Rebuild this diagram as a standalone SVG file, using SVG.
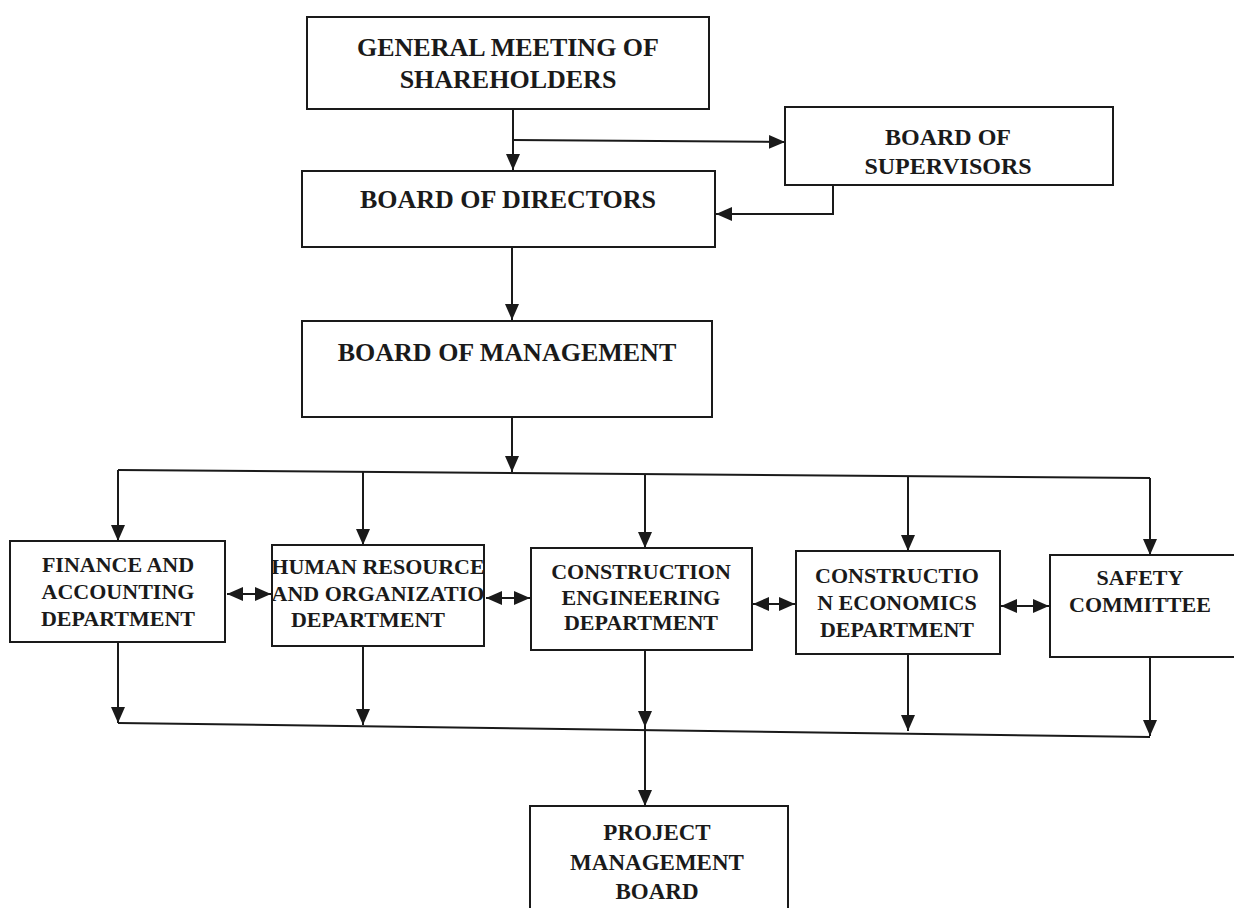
<svg xmlns="http://www.w3.org/2000/svg" width="1234" height="908" viewBox="0 0 1234 908">
<style>
.box{fill:#fff;stroke:#1a1a1a;stroke-width:2}
.t{font-family:"Liberation Serif","Times New Roman",serif;font-weight:bold;fill:#1a1a1a;text-anchor:middle}
.big{font-size:26px}
.mid{font-size:24px}
.dep{font-size:22px}
.pmb{font-size:23px}
.ln{fill:none;stroke:#1a1a1a;stroke-width:2}
.ar{marker-end:url(#ah)}
.dbl{marker-start:url(#ahs);marker-end:url(#ah)}
</style>
<defs>
<marker id="ah" markerUnits="userSpaceOnUse" markerWidth="17" markerHeight="16" refX="16" refY="8" orient="auto">
<path d="M0,1 L16,8 L0,15 Z" fill="#1a1a1a"/>
</marker>
<marker id="ahs" markerUnits="userSpaceOnUse" markerWidth="17" markerHeight="16" refX="1" refY="8" orient="auto">
<path d="M17,1 L1,8 L17,15 Z" fill="#1a1a1a"/>
</marker>
</defs>
<rect width="1234" height="908" fill="#fff"/>
<g id="connectors">
<path class="ln ar" d="M513,110 V170"/>
<path class="ln ar" d="M513,140 L785,142"/>
<path class="ln ar" d="M833,185 V214 H716"/>
<path class="ln ar" d="M512,247 V320"/>
<path class="ln ar" d="M512,418 V472"/>
<path class="ln" d="M118,470 L1150,478"/>
<path class="ln ar" d="M118,470 V541"/>
<path class="ln ar" d="M363,472 V545"/>
<path class="ln ar" d="M645,474 V548"/>
<path class="ln ar" d="M908,476 V551"/>
<path class="ln ar" d="M1150,478 V555"/>
<path class="ln dbl" d="M227,594 H271"/>
<path class="ln dbl" d="M486,598 H530"/>
<path class="ln dbl" d="M753,604 H795"/>
<path class="ln dbl" d="M1001,606 H1049"/>
<path class="ln ar" d="M118,642 V723"/>
<path class="ln ar" d="M363,646 V725"/>
<path class="ln ar" d="M645,650 V727"/>
<path class="ln ar" d="M908,654 V731"/>
<path class="ln ar" d="M1150,657 V736"/>
<path class="ln" d="M118,723 L1150,737"/>
<path class="ln ar" d="M645,727 V806"/>
</g>
<g id="gms">
<rect class="box" x="307" y="17" width="402" height="92"/>
<text class="t big" x="508" y="56">GENERAL MEETING OF</text>
<text class="t big" x="508" y="88">SHAREHOLDERS</text>
</g>
<g id="supervisors">
<rect class="box" x="785" y="107" width="328" height="78"/>
<text class="t mid" x="948" y="145">BOARD OF</text>
<text class="t mid" x="948" y="174">SUPERVISORS</text>
</g>
<g id="directors">
<rect class="box" x="302" y="171" width="413" height="76"/>
<text class="t big" x="508" y="208">BOARD OF DIRECTORS</text>
</g>
<g id="management">
<rect class="box" x="302" y="321" width="410" height="96"/>
<text class="t big" x="507" y="361">BOARD OF MANAGEMENT</text>
</g>
<g id="finance">
<rect class="box" x="10" y="541" width="215" height="101"/>
<text class="t dep" x="118" y="572">FINANCE AND</text>
<text class="t dep" x="118" y="599">ACCOUNTING</text>
<text class="t dep" x="118" y="626">DEPARTMENT</text>
</g>
<g id="hr">
<rect class="box" x="272" y="545" width="212" height="101"/>
<text class="t dep" x="378" y="574">HUMAN RESOURCE</text>
<text class="t dep" x="378" y="601">AND ORGANIZATIO</text>
<text class="t dep" x="368" y="627">DEPARTMENT</text>
</g>
<g id="construction-eng">
<rect class="box" x="531" y="548" width="221" height="102"/>
<text class="t dep" x="641" y="579">CONSTRUCTION</text>
<text class="t dep" x="641" y="605">ENGINEERING</text>
<text class="t dep" x="641" y="630">DEPARTMENT</text>
</g>
<g id="construction-eco">
<rect class="box" x="796" y="551" width="204" height="103"/>
<text class="t dep" x="897" y="583">CONSTRUCTIO</text>
<text class="t dep" x="897" y="610">N ECONOMICS</text>
<text class="t dep" x="897" y="637">DEPARTMENT</text>
</g>
<g id="safety">
<rect class="box" x="1050" y="555" width="190" height="102"/>
<text class="t dep" x="1140" y="585">SAFETY</text>
<text class="t dep" x="1140" y="612">COMMITTEE</text>
</g>
<g id="pmb">
<rect class="box" x="530" y="806" width="258" height="110"/>
<text class="t pmb" x="657" y="840">PROJECT</text>
<text class="t pmb" x="657" y="870">MANAGEMENT</text>
<text class="t pmb" x="657" y="899">BOARD</text>
</g>
</svg>
